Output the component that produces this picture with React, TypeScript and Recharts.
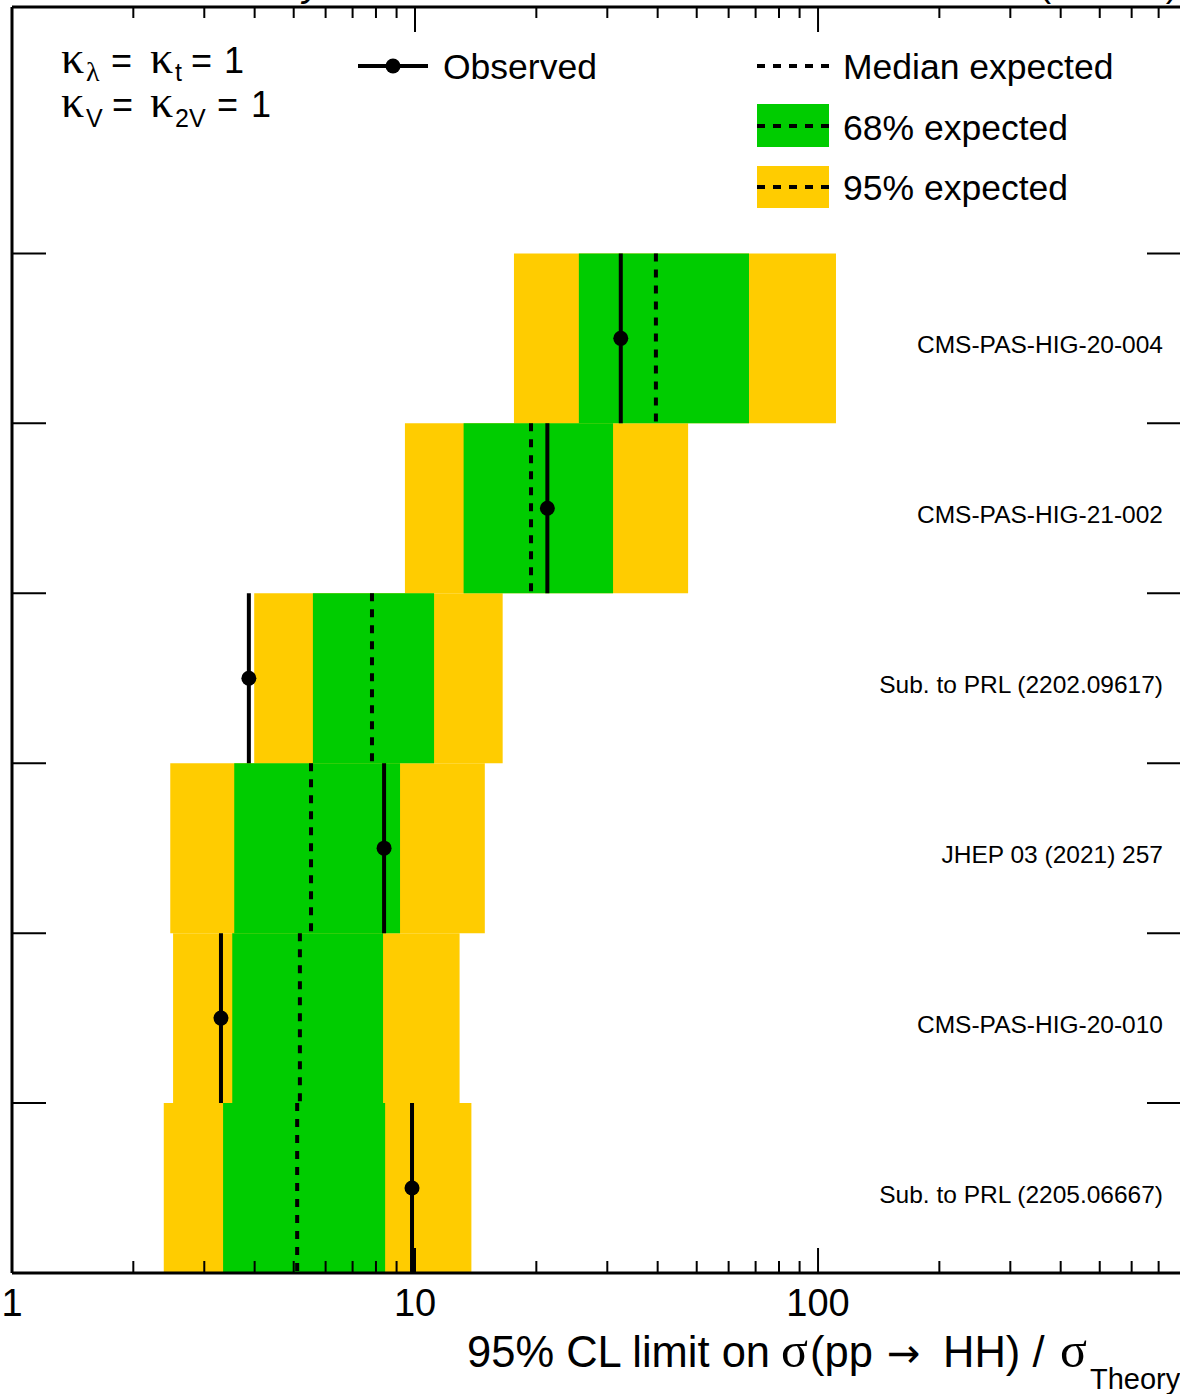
import React from 'react';
import {
    ComposedChart,
    XAxis,
    YAxis,
    Scatter,
    ReferenceArea,
    ReferenceLine,
    Customized,
} from 'recharts';

// one entry per row, top to bottom
const rowLabels = [
    'CMS-PAS-HIG-20-004',
    'CMS-PAS-HIG-21-002',
    'Sub. to PRL (2202.09617)',
    'JHEP 03 (2021) 257',
    'CMS-PAS-HIG-20-010',
    'Sub. to PRL (2205.06667)',
];
const observed = [32.4, 21.3, 3.87, 8.38, 3.3, 9.83];
const expected = [39.6, 19.4, 7.82, 5.52, 5.18, 5.1];
const lo68 = [25.5, 13.2, 5.58, 3.56, 3.52, 3.34];
const hi68 = [67.4, 31.0, 11.15, 9.18, 8.33, 8.43];
const lo95 = [17.6, 9.44, 3.99, 2.47, 2.51, 2.38];
const hi95 = [110.8, 47.6, 16.5, 14.9, 12.9, 13.8];

const majorTicks = [1, 10, 100];
const minorTicks = [2, 3, 4, 5, 6, 7, 8, 9, 20, 30, 40, 50, 60, 70, 80, 90, 200, 300, 400, 500, 600, 700];
const xTicks = [...majorTicks, ...minorTicks].sort((a, b) => a - b);

const legendLabels = ['Observed', 'Median expected', '68% expected', '95% expected'];

const X_MIN = 1;
const X_MAX = 800;
const Y_MAX = 7.45;

const GREEN = '#00cc00';
const YELLOW = '#ffcc00';
const SANS = "'Liberation Sans', Arial, Helvetica, sans-serif";
const SERIF = "'Liberation Serif', 'Times New Roman', serif";

const nRows = rowLabels.length;
const rowTop = (i: number) => nRows - i;
const rowBottom = (i: number) => nRows - i - 1;

const dots = observed.map((v, i) => ({ x: v, y: nRows - i - 0.5 }));
const rowEdges = rowLabels.map((_, i) => i + 1);
const rightTicks = [...rowEdges, ...rowLabels.map((_, i) => i + 0.5)].sort((a, b) => a - b);

const BottomTick = (props: any) => {
    const { x, y, payload } = props;
    const major = majorTicks.includes(payload.value);
    return (
        <g>
            <line x1={x} x2={x} y1={y} y2={y - (major ? 25 : 12)} stroke="#000" strokeWidth={2} />
            {major && (
                <text x={x} y={y + 43} textAnchor="middle" fontSize={38} fontFamily={SANS} fill="#000">
                    {payload.value}
                </text>
            )}
        </g>
    );
};

const TopTick = (props: any) => {
    const { x, y, payload } = props;
    const major = majorTicks.includes(payload.value);
    return <line x1={x} x2={x} y1={y} y2={y + (major ? 25 : 11)} stroke="#000" strokeWidth={2} />;
};

const LeftTick = (props: any) => {
    const { x, y } = props;
    return <line x1={x} x2={x + 34} y1={y} y2={y} stroke="#000" strokeWidth={2} />;
};

const RightTick = (props: any) => {
    const { x, y, payload } = props;
    const v = payload.value;
    if (Number.isInteger(v)) {
        return <line x1={x - 35} x2={x} y1={y} y2={y} stroke="#000" strokeWidth={2} />;
    }
    const row = nRows - 1 - Math.floor(v);
    return (
        <text x={x - 19} y={y + 15} textAnchor="end" fontSize={24.5} fontFamily={SANS} fill="#000">
            {rowLabels[row]}
        </text>
    );
};

const dashedSample = (x1: number, x2: number, y: number) => (
    <line x1={x1} x2={x2} y1={y} y2={y} stroke="#000" strokeWidth={4} strokeDasharray="8 8" />
);

const Annotations = () => (
    <g fill="#000">
        {/* cut-off header, as in the cropped original */}
        <text x={322} y={-4} textAnchor="end" fontSize={38} fontFamily={SANS}>
            <tspan fontWeight="bold">CMS</tspan> <tspan fontStyle="italic">Preliminary</tspan>
        </text>
        <text x={1178} y={-4} textAnchor="end" fontSize={37} fontFamily={SANS}>
            138 fb⁻¹ (13 TeV)
        </text>

        {/* couplings */}
        <text y={73} fontSize={36} fontFamily={SANS}>
            <tspan x={61} fontFamily={SERIF} fontSize={46}>κ</tspan>
            <tspan x={86} y={81} fontFamily={SERIF} fontSize={28}>λ</tspan>
            <tspan x={111} y={73}>=</tspan>
            <tspan x={150} fontFamily={SERIF} fontSize={46}>κ</tspan>
            <tspan x={175} y={81} fontSize={25}>t</tspan>
            <tspan x={191} y={73}>=</tspan>
            <tspan x={224}>1</tspan>
        </text>
        <text y={117} fontSize={36} fontFamily={SANS}>
            <tspan x={61} fontFamily={SERIF} fontSize={46}>κ</tspan>
            <tspan x={86} y={127} fontSize={25}>V</tspan>
            <tspan x={112} y={117}>=</tspan>
            <tspan x={150} fontFamily={SERIF} fontSize={46}>κ</tspan>
            <tspan x={175} y={127} fontSize={25}>2V</tspan>
            <tspan x={217} y={117}>=</tspan>
            <tspan x={251}>1</tspan>
        </text>

        {/* legend */}
        <g fontSize={35.5} fontFamily={SANS}>
            <line x1={358} x2={428} y1={66} y2={66} stroke="#000" strokeWidth={4} />
            <circle cx={393} cy={66} r={7.5} fill="#000" />
            <text x={443} y={79}>{legendLabels[0]}</text>

            {dashedSample(757, 829, 66)}
            <text x={843} y={79}>{legendLabels[1]}</text>

            <rect x={757} y={104} width={72} height={43} fill={GREEN} />
            {dashedSample(757, 829, 126)}
            <text x={843} y={140}>{legendLabels[2]}</text>

            <rect x={757} y={166} width={72} height={42} fill={YELLOW} />
            {dashedSample(757, 829, 187)}
            <text x={843} y={200}>{legendLabels[3]}</text>
        </g>

        {/* x axis title */}
        <text y={1367} fontSize={43.5} fontFamily={SANS}>
            <tspan x={467}>95% CL limit on</tspan>
            <tspan x={781} fontFamily={SERIF} fontSize={50}>σ</tspan>
            <tspan x={810}>(pp</tspan>
            <tspan x={887} fontFamily="'DejaVu Sans', sans-serif" fontSize={40}>→</tspan>
            <tspan x={943}>HH) /</tspan>
            <tspan x={1060} fontFamily={SERIF} fontSize={50}>σ</tspan>
            <tspan x={1090} y={1389} fontSize={29}>Theory</tspan>
        </text>
    </g>
);

export default function App() {
    return (
        <div
            style={{
                position: 'absolute',
                left: 0,
                top: 0,
                width: 1180,
                height: 1394,
                overflow: 'hidden',
                background: '#fff',
            }}
        >
            <ComposedChart
                width={1300}
                height={1394}
                margin={{ top: 6, right: 117, bottom: 120, left: 11 }}
            >
                <XAxis
                    xAxisId={0}
                    dataKey="x"
                    type="number"
                    scale="log"
                    domain={[X_MIN, X_MAX]}
                    allowDataOverflow
                    ticks={xTicks}
                    interval={0}
                    height={1}
                    tickSize={0}
                    tickMargin={0}
                    tickLine={false}
                    tick={BottomTick}
                    axisLine={{ stroke: '#000', strokeWidth: 3 }}
                />
                <XAxis
                    xAxisId="top"
                    orientation="top"
                    dataKey="x"
                    type="number"
                    scale="log"
                    domain={[X_MIN, X_MAX]}
                    allowDataOverflow
                    ticks={xTicks}
                    interval={0}
                    height={1}
                    tickSize={0}
                    tickMargin={0}
                    tickLine={false}
                    tick={TopTick}
                    axisLine={{ stroke: '#000', strokeWidth: 3 }}
                />
                <YAxis
                    yAxisId={0}
                    dataKey="y"
                    type="number"
                    domain={[0, Y_MAX]}
                    allowDataOverflow
                    ticks={rowEdges}
                    interval={0}
                    width={1}
                    tickSize={0}
                    tickMargin={0}
                    tickLine={false}
                    tick={LeftTick}
                    axisLine={{ stroke: '#000', strokeWidth: 3 }}
                />
                <YAxis
                    yAxisId="right"
                    orientation="right"
                    type="number"
                    domain={[0, Y_MAX]}
                    allowDataOverflow
                    ticks={rightTicks}
                    interval={0}
                    width={1}
                    tickSize={0}
                    tickMargin={0}
                    tickLine={false}
                    tick={RightTick}
                    axisLine={{ stroke: '#000', strokeWidth: 3 }}
                />

                {rowLabels.map((_, i) => (
                    <ReferenceArea
                        key={`y95-${i}`}
                        x1={lo95[i]}
                        x2={hi95[i]}
                        y1={rowBottom(i)}
                        y2={rowTop(i)}
                        fill={YELLOW}
                        fillOpacity={1}
                        stroke="none"
                    />
                ))}
                {rowLabels.map((_, i) => (
                    <ReferenceArea
                        key={`g68-${i}`}
                        x1={lo68[i]}
                        x2={hi68[i]}
                        y1={rowBottom(i)}
                        y2={rowTop(i)}
                        fill={GREEN}
                        fillOpacity={1}
                        stroke="none"
                    />
                ))}
                {rowLabels.map((_, i) => (
                    <ReferenceLine
                        key={`exp-${i}`}
                        segment={[
                            { x: expected[i], y: rowTop(i) },
                            { x: expected[i], y: rowBottom(i) },
                        ]}
                        stroke="#000"
                        strokeWidth={4}
                        strokeDasharray="8 8"
                    />
                ))}
                {rowLabels.map((_, i) => (
                    <ReferenceLine
                        key={`obs-${i}`}
                        segment={[
                            { x: observed[i], y: rowTop(i) },
                            { x: observed[i], y: rowBottom(i) },
                        ]}
                        stroke="#000"
                        strokeWidth={4}
                    />
                ))}
                <Scatter
                    data={dots}
                    isAnimationActive={false}
                    shape={(p: any) => <circle cx={p.cx} cy={p.cy} r={7.5} fill="#000" />}
                />
                <Customized component={Annotations} />
            </ComposedChart>
        </div>
    );
}
